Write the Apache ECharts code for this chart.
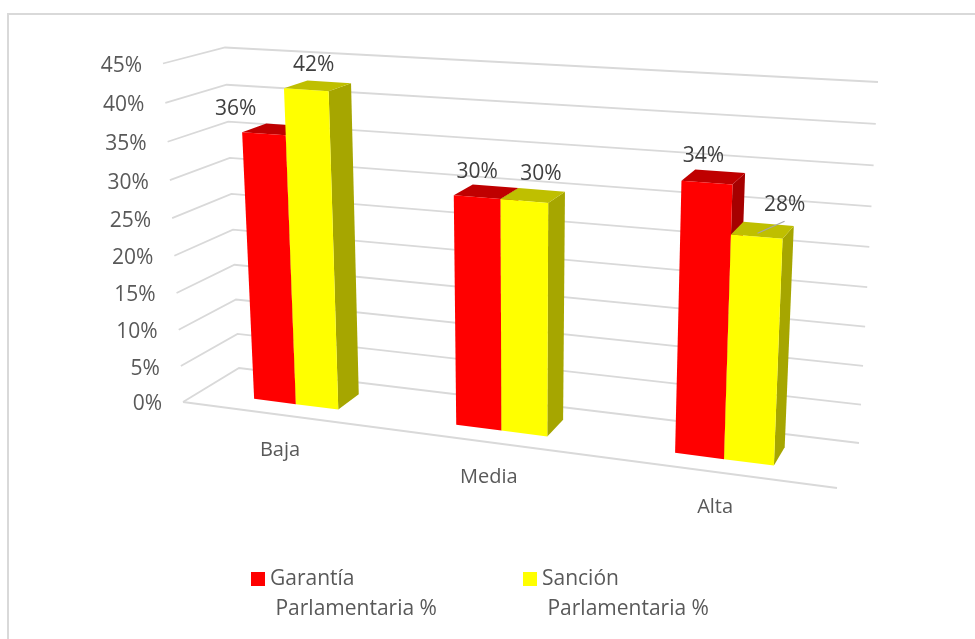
<!DOCTYPE html>
<html><head><meta charset="utf-8">
<style>html,body{margin:0;padding:0;background:#fff}#c{width:975px;height:639px}</style>
<script src="https://cdn.jsdelivr.net/npm/echarts@6/dist/echarts.min.js"></script>
</head><body><div id="c"></div>
<script>
// ---- data ----
var categories = ['Baja', 'Media', 'Alta'];
var garantia = [36, 30, 34];
var sancion = [42, 30, 28];
var ticks = [0, 5, 10, 15, 20, 25, 30, 35, 40, 45];
var seriesNames = ['Garantía Parlamentaria %', 'Sanción Parlamentaria %'];

// ---- layout of the drawn 3D box (pixel corners of the picture's box) ----
var FONT = '"Open Sans"';
var BOX = {
  fb0: [183, 402], fb1: [837, 488], bb0: [239, 368], bb1: [859, 443],
  ft0: [163, 63.5], ft1: [854.7, 105.4], bt0: [225, 47.5], bt1: [878, 82]
};
var K_X = 1.128, K_Y = 1.052;           // perspective foreshortening
var DEPTH = [0.30, 0.72];               // bar depth inside the floor
var BAR_BAND = 0.213;                   // bar width as part of a category band
var BAR_SHIFT = -0.0015;                // small sideways nudge of the bars
var GRID = { left: 0, top: 0, width: 600, height: 400 };
var labelOffsets = [
  [[-40, -20], [-4, -21]],
  [[-9, -20], [8, -21]],
  [[-10, -21], [22, -25]]
];

function persp(t, k) { return t / (t + k * (1 - t)); }
function lerp(a, b, s) { return [a[0] + (b[0] - a[0]) * s, a[1] + (b[1] - a[1]) * s]; }
// t, f, d are normalised positions along category axis, value axis and depth
function project(t, f, d) {
  var u = persp(t, K_X), v = persp(f, K_Y);
  var bot = lerp(lerp(BOX.fb0, BOX.fb1, u), lerp(BOX.bb0, BOX.bb1, u), d);
  var top = lerp(lerp(BOX.ft0, BOX.ft1, u), lerp(BOX.bt0, BOX.bt1, u), d);
  return lerp(bot, top, v);
}
function normX(px) { return (px - GRID.left) / GRID.width; }
function normY(py) { return (GRID.top + GRID.height - py) / GRID.height; }

function barSeries(name, values, slot, cFront, cTop, cSide) {
  return {
    type: 'custom', name: name, coordinateSystem: 'cartesian2d', silent: true, animation: false,
    itemStyle: { color: cFront }, encode: { x: 0, y: 1 },
    data: values.map(function (v, i) { return [i, v]; }),
    renderItem: function (params, api) {
      var cat = api.value(0), val = api.value(1);
      var c = api.coord([cat, val]), base = api.coord([cat, 0]), band = api.size([1, 0])[0];
      var t0 = normX(c[0] + slot * BAR_BAND * band) + BAR_SHIFT, t1 = normX(c[0] + (slot + 1) * BAR_BAND * band) + BAR_SHIFT;
      var f1 = normY(c[1]), f0 = normY(base[1]);
      var d0 = DEPTH[0], d1 = DEPTH[1];
      var fl = project(t0, f0, d0), fr = project(t1, f0, d0), br = project(t1, f0, d1);
      var tl = project(t0, f1, d0), tr = project(t1, f1, d0), ubr = project(t1, f1, d1), ubl = project(t0, f1, d1);
      var mid = project((t0 + t1) / 2, f1, (d0 + d1) / 2);
      var off = labelOffsets[cat][slot + 1];
      var lx = mid[0] + off[0], ly = mid[1] + off[1];
      var kids = [
        { type: 'polygon', shape: { points: [fr, br, ubr, tr] }, style: { fill: cSide } },
        { type: 'polygon', shape: { points: [tl, tr, ubr, ubl] }, style: { fill: cTop } },
        { type: 'polygon', shape: { points: [fl, fr, tr, tl] }, style: { fill: cFront } }
      ];
      if (off[0] > 20) {
        kids.push({ type: 'line', shape: { x1: mid[0] - 5, y1: mid[1] + 3, x2: lx, y2: ly + 16 },
          style: { stroke: '#a6a6a6', lineWidth: 1.2 } });
      }
      kids.push({ type: 'text', x: lx, y: ly, z2: 10, style: { text: val + '%', fill: '#404040',
        font: '21px ' + FONT, align: 'center', verticalAlign: 'middle' } });
      return { type: 'group', children: kids };
    }
  };
}

var frameSeries = {
  type: 'custom', silent: true, animation: false, encode: { x: 0, y: 1 },
  data: ticks.map(function (v) { return [0, v]; }),
  renderItem: function (params, api) {
    var val = api.value(1), f = normY(api.coord([0, val])[1]);
    var a = project(0, f, 0), b = project(0, f, 1), c = project(1, f, 1);
    var kids = [{ type: 'polyline', shape: { points: [a, b, c] },
      style: { stroke: '#d9d9d9', lineWidth: 1.8, fill: null } }];
    if (val === 0) {
      kids.push({ type: 'line', shape: { x1: a[0], y1: a[1], x2: BOX.fb1[0], y2: BOX.fb1[1] },
        style: { stroke: '#d9d9d9', lineWidth: 1.8 } });
    }
    kids.push({ type: 'text', x: a[0] - 21, y: a[1] + 2.5, style: { text: val + '%', fill: '#595959',
      font: '21px ' + FONT, align: 'right', verticalAlign: 'middle' } });
    return { type: 'group', children: kids };
  }
};

var categorySeries = {
  type: 'custom', silent: true, animation: false, encode: { x: 0, y: 1 },
  data: categories.map(function (c, i) { return [i, 0]; }),
  renderItem: function (params, api) {
    var i = api.value(0), c = api.coord([i, 0]);
    var p = project(normX(c[0]), 0, 0);
    return { type: 'text', x: p[0] - 1.5, y: p[1] + 35, style: { text: categories[i], fill: '#595959',
      font: '20px ' + FONT, align: 'center', verticalAlign: 'middle' } };
  }
};

function legendFor(i, left) {
  return {
    left: left, top: 562.5, data: [seriesNames[i]], selectedMode: false, padding: 0,
    itemWidth: 14, itemHeight: 44, icon: 'path://M0 0H14V14H0Z M0 44L0 44',
    formatter: function (n) { return n.replace(' ', '\n '); },
    textStyle: { fontFamily: 'Open Sans', fontSize: 21, color: '#595959', lineHeight: 30, padding: [3, 0, 0, 0] }
  };
}

var chart = echarts.init(document.getElementById('c'), null, { renderer: 'canvas' });
chart.setOption({
  animation: false, backgroundColor: '#ffffff',
  grid: GRID,
  xAxis: { type: 'category', data: categories, show: false },
  yAxis: { type: 'value', min: 0, max: 45, interval: 5, show: false },
  legend: [legendFor(0, 251), legendFor(1, 523)],
  graphic: [{ type: 'rect', shape: { x: 8, y: 14, width: 1100, height: 1000 }, silent: true,
    style: { fill: null, stroke: '#d9d9d9', lineWidth: 2 } }],
  series: [
    frameSeries,
    categorySeries,
    barSeries(seriesNames[0], garantia, -1, '#ff0000', '#bf0000', '#a60000'),
    barSeries(seriesNames[1], sancion, 0, '#ffff00', '#bfbf00', '#a6a600')
  ]
});
</script></body></html>
